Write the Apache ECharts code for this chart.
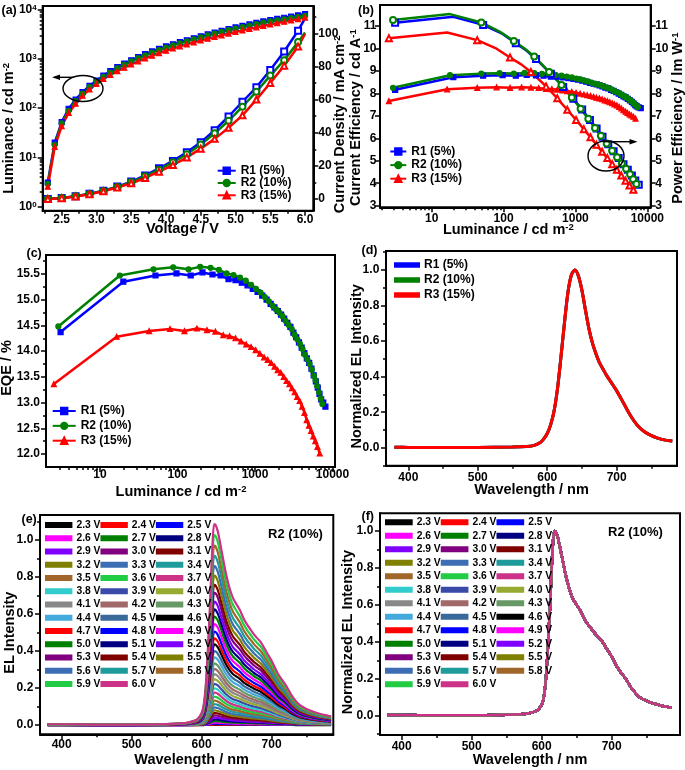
<!DOCTYPE html>
<html><head><meta charset="utf-8">
<script src="https://cdn.jsdelivr.net/npm/echarts@6/dist/echarts.min.js"></script>
<style>html,body{margin:0;padding:0;background:#fff}#c{width:685px;height:770px}</style>
</head><body><div id="c"></div>
<script>
// ---------------- data ----------------
const V = [2.3,2.4,2.5,2.6,2.7,2.8,2.9,3.0,3.1,3.2,3.3,3.4,3.5,3.6,3.7,3.8,3.9,4.0,4.1,4.2,4.3,4.4,4.5,4.6,4.7,4.8,4.9,5.0,5.1,5.2,5.3,5.4,5.5,5.6,5.7,5.8,5.9,6.0];
const sampleNames = ['R1 (5%)','R2 (10%)','R3 (15%)'];
// luminance (cd m^-2) at each voltage
const L1 = [3.1,20,52,97,148,210,283,360,455,560,675,800,935,1080,1240,1410,1590,1780,1970,2170,2380,2610,2860,3130,3400,3690,4000,4330,4660,5000,5350,5720,6100,6450,6800,7150,7600,8100];
const L2 = [2.9,18,49,88,139,196,267,342,430,528,640,760,890,1030,1180,1340,1510,1690,1870,2060,2260,2480,2720,2980,3240,3510,3800,4110,4420,4740,5070,5400,5750,6050,6350,6700,7050,7400];
const L3 = [2.54,16.4,43,80,123,178,240,308,390,470,560,660,770,890,1020,1160,1310,1460,1620,1790,1960,2150,2350,2560,2780,3000,3250,3500,3770,4050,4350,4650,4970,5300,5650,6000,6400,6850];
// current density (mA cm^-2)
const vJ = [2.3,2.5,2.7,2.9,3.1,3.3,3.5,3.7,3.9,4.1,4.3,4.5,4.7,4.9,5.1,5.3,5.5,5.7,5.9,6.0];
const J1 = [0,0.6,1.7,3.2,5.0,7.5,10.5,14.2,18.5,23.0,28.2,34.2,41.5,49.8,58.7,67.4,77.9,89.0,101.6,109.0];
const J2 = [0,0.55,1.6,3.0,4.9,7.3,10.2,13.7,17.7,22.2,27.0,32.9,39.7,47.2,55.7,64.8,74.5,83.8,94.7,100.5];
const J3 = [0,0.5,1.5,2.9,4.7,6.9,9.5,12.7,16.5,20.5,25.1,30.4,36.3,43.0,50.5,60.0,70.0,80.5,92.0,99.6];
// current efficiency (cd/A)
const CE1 = [8.16,8.72,8.79,8.81,8.79,8.82,8.80,8.79,8.75,8.74,8.71,8.68,8.64,8.61,8.57,8.52,8.47,8.43,8.40,8.36,8.31,8.26,8.22,8.16,8.11,8.05,7.99,7.93,7.87,7.82,7.76,7.69,7.62,7.55,7.48,7.42,7.38,7.34];
const CE2 = [8.25,8.81,8.88,8.90,8.88,8.91,8.90,8.87,8.83,8.82,8.79,8.75,8.71,8.66,8.62,8.57,8.53,8.47,8.43,8.40,8.36,8.31,8.26,8.22,8.16,8.10,8.05,8.00,7.93,7.88,7.83,7.77,7.70,7.65,7.59,7.52,7.45,7.39];
const CE3 = [7.66,8.18,8.25,8.27,8.25,8.27,8.26,8.24,8.20,8.19,8.17,8.13,8.10,8.07,8.03,7.99,7.95,7.92,7.89,7.85,7.81,7.78,7.74,7.69,7.66,7.61,7.56,7.51,7.47,7.40,7.33,7.25,7.19,7.13,7.07,7.02,6.96,6.88];
// power efficiency (lm/W)
const PE1 = [11.15,11.41,11.05,10.65,10.23,9.90,9.53,9.20,8.87,8.58,8.29,8.02,7.76,7.51,7.28,7.04,6.82,6.62,6.44,6.25,6.07,5.90,5.74,5.57,5.42,5.27,5.12,4.98,4.85,4.72,4.60,4.47,4.35,4.24,4.12,4.02,3.93,3.84];
const PE2 = [11.27,11.53,11.16,10.75,10.33,10.00,9.64,9.29,8.95,8.66,8.37,8.08,7.82,7.56,7.32,7.08,6.87,6.65,6.46,6.28,6.11,5.93,5.77,5.61,5.45,5.30,5.16,5.03,4.88,4.76,4.64,4.52,4.40,4.29,4.18,4.07,3.97,3.87];
const PE3 = [10.46,10.71,10.37,9.99,9.60,9.28,8.95,8.63,8.31,8.04,7.78,7.51,7.27,7.04,6.82,6.61,6.40,6.22,6.05,5.87,5.71,5.55,5.40,5.25,5.12,4.98,4.85,4.72,4.60,4.47,4.34,4.22,4.11,4.00,3.90,3.80,3.71,3.60];
// EQE (%)
const EQE1 = [14.37,15.35,15.47,15.51,15.47,15.53,15.49,15.47,15.40,15.38,15.33,15.28,15.21,15.15,15.08,15.00,14.92,14.85,14.78,14.71,14.63,14.55,14.47,14.36,14.27,14.17,14.07,13.96,13.86,13.77,13.66,13.53,13.41,13.29,13.17,13.06,13.00,12.92];
const EQE2 = [14.48,15.47,15.59,15.63,15.59,15.64,15.62,15.58,15.51,15.48,15.43,15.37,15.29,15.21,15.14,15.05,14.97,14.88,14.81,14.75,14.68,14.59,14.51,14.43,14.32,14.23,14.14,14.04,13.93,13.84,13.75,13.64,13.52,13.43,13.32,13.20,13.08,12.97];
const EQE3 = [13.36,14.28,14.39,14.43,14.39,14.44,14.41,14.38,14.31,14.29,14.25,14.19,14.13,14.08,14.02,13.95,13.88,13.83,13.77,13.70,13.63,13.58,13.50,13.42,13.36,13.28,13.20,13.11,13.03,12.92,12.80,12.66,12.55,12.45,12.34,12.25,12.14,12.01];
// normalized EL spectrum, panel (d)
const wlD = [380,400,450,500,550,570,580,590,595,600,605,610,615,620,625,630,635,640,645,650,655,660,665,670,675,680,685,690,695,700,710,720,730,740,750,760,770,780];
const elNormD = [0.003,0.002,0.001,0.002,0.004,0.007,0.012,0.03,0.05,0.08,0.13,0.21,0.34,0.52,0.71,0.88,0.975,1.0,0.965,0.885,0.775,0.67,0.59,0.53,0.48,0.445,0.41,0.38,0.35,0.32,0.25,0.18,0.125,0.09,0.068,0.053,0.043,0.038];
// normalized EL spectrum, panels (e)/(f)
const wlEF = [380,400,450,500,550,570,580,590,595,600,603,606,609,612,614,616,618,620,623,626,630,635,640,645,650,655,660,665,670,675,680,685,690,695,700,710,720,730,740,750,760,770,780,785];
const elNormEF = [0.004,0.004,0.002,0.002,0.005,0.008,0.012,0.022,0.033,0.06,0.1,0.2,0.38,0.6,0.78,0.93,1.0,0.995,0.965,0.915,0.84,0.75,0.68,0.63,0.6,0.57,0.53,0.5,0.475,0.45,0.43,0.41,0.38,0.35,0.32,0.25,0.2,0.14,0.1,0.08,0.066,0.055,0.047,0.043];
// EL peak intensity at each voltage, panel (e)
const elPeak = [0.001,0.003,0.007,0.013,0.021,0.030,0.040,0.052,0.065,0.079,0.095,0.113,0.132,0.153,0.175,0.198,0.222,0.248,0.275,0.303,0.333,0.366,0.400,0.436,0.468,0.505,0.546,0.586,0.625,0.667,0.715,0.757,0.807,0.859,0.914,0.969,1.027,1.086];
// tick values
const aXMajor = [2.5,3.0,3.5,4.0,4.5,5.0,5.5,6.0];
const aXMinor = [2.25,2.75,3.25,3.75,4.25,4.75,5.25,5.75];
const logMajor = [1,10,100,1000,10000];
const logMinor = [2,3,4,5,6,7,8,9,20,30,40,50,60,70,80,90,200,300,400,500,600,700,800,900,2000,3000,4000,5000,6000,7000,8000,9000];
const jMajor = [0,20,40,60,80,100];
const jMinor = [10,30,50,70,90,110];
const effMajor = [3,4,5,6,7,8,9,10,11];
const eqeMajor = [12.0,12.5,13.0,13.5,14.0,14.5,15.0,15.5];
const eqeMinor = [12.25,12.75,13.25,13.75,14.25,14.75,15.25,15.75];
const wlMajor = [400,500,600,700];
const wlMinor = [450,550,650,750];
const elMajor = [0,0.2,0.4,0.6,0.8,1.0];
const elMinor = [-0.1,0.1,0.3,0.5,0.7,0.9,1.1];

// ---------------- styling helpers ----------------
const FONT = '"Liberation Sans", Arial, Helvetica, sans-serif';
function T(size, extra) { return Object.assign({fontFamily: FONT, fontWeight: 'bold', fontSize: size, color: '#000'}, extra || {}); }
const SUP = {sup: T(9.5, {verticalAlign: 'top'})};
const voltLabels = V.map(v => v.toFixed(1) + ' V');
const voltColors = ['#000000','#ff0000','#0000ff','#ff00ff','#008000','#000080','#8000ff','#800080','#800000','#808000','#3d6db5','#1f9b9b','#a0662a','#22cc44','#cc3388','#33cccc','#3a4aa8','#99aa33','#888888','#a06868','#669966','#44aadd','#3a6a9a'];
const f1 = v => (Math.round(v * 10) / 10).toFixed(1);

function grid(left, top, width, height) {
  return {left, top, width, height, show: true, borderColor: '#000', borderWidth: 2,
          backgroundColor: 'transparent', containLabel: false, outerBoundsMode: 'none'};
}
function ax(o) {
  const a = {
    type: o.type || 'value', gridIndex: o.g, position: o.pos, min: o.min, max: o.max,
    axisLine: {show: !o.minor, onZero: false, lineStyle: {color: '#000', width: 2}},
    axisTick: {show: true, inside: false, length: o.minor ? 3 : 5, lineStyle: {color: '#000', width: 1.5}, customValues: o.ticks},
    axisLabel: {show: false},
    splitLine: {show: false}, splitArea: {show: false}, minorTick: {show: false}, minorSplitLine: {show: false},
    axisPointer: {show: false}, silent: true
  };
  if (o.type === 'log') a.logBase = 10;
  if (o.labels) {
    a.axisLabel = Object.assign({show: true, customValues: o.labels, margin: o.margin, hideOverlap: false}, T(12));
    if (o.fmt) a.axisLabel.formatter = o.fmt;
    if (o.rich) a.axisLabel.rich = o.rich;
  }
  if (o.name) {
    a.name = o.name; a.nameLocation = 'middle'; a.nameGap = o.gap; a.nameMoveOverlap = false;
    a.nameTextStyle = T(14.5, {rich: SUP, padding: o.pad || 0});
  }
  return a;
}

const grids = [
  grid(42.7, 6, 270.6, 204.7),   // a
  grid(380, 5, 270.7, 202.3),    // b
  grid(46, 255, 289, 212),       // c
  grid(386, 251, 291, 214.7),    // d
  grid(40, 515, 293.3, 219.3),   // e
  grid(380, 513.3, 300, 221.7)   // f
];
const logFmt = v => String(Math.round(v));
const xAxes = [
  ax({g:0,pos:'bottom',min:2.227,max:6.119,ticks:aXMajor,labels:aXMajor,fmt:f1,margin:3,name:'Voltage / V',gap:11,pad:[0,0,0,9]}),
  ax({g:0,pos:'bottom',min:2.227,max:6.119,ticks:aXMinor,minor:true}),
  ax({g:1,pos:'bottom',type:'log',min:1.91,max:11140,ticks:logMajor,labels:logMajor,fmt:logFmt,margin:5,name:'Luminance / cd m{sup|-2}',gap:15,pad:[0,14,0,0]}),
  ax({g:1,pos:'bottom',type:'log',min:1.91,max:11140,ticks:logMinor,minor:true}),
  ax({g:2,pos:'bottom',type:'log',min:2.01,max:10770,ticks:logMajor,labels:logMajor,fmt:logFmt,margin:2,name:'Luminance / cd m{sup|-2}',gap:17,pad:[0,19,0,0]}),
  ax({g:2,pos:'bottom',type:'log',min:2.01,max:10770,ticks:logMinor,minor:true}),
  ax({g:3,pos:'bottom',min:367.9,max:786.8,ticks:wlMajor,labels:wlMajor,margin:6,name:'Wavelength / nm',gap:17}),
  ax({g:3,pos:'bottom',min:367.9,max:786.8,ticks:wlMinor,minor:true}),
  ax({g:4,pos:'bottom',min:369,max:788.2,ticks:wlMajor,labels:wlMajor,margin:4,name:'Wavelength / nm',gap:18,pad:[0,0,0,10]}),
  ax({g:4,pos:'bottom',min:369,max:788.2,ticks:wlMinor,minor:true}),
  ax({g:5,pos:'bottom',min:369,max:797.6,ticks:wlMajor,labels:wlMajor,margin:5.7,name:'Wavelength / nm',gap:17.5}),
  ax({g:5,pos:'bottom',min:369,max:797.6,ticks:wlMinor,minor:true})
];
const yAxes = [
  ax({g:0,pos:'left',type:'log',min:0.83,max:11780,ticks:logMajor,labels:logMajor,fmt:v => '10{s|' + Math.round(Math.log10(v)) + '}',rich:{s:T(8,{verticalAlign:'top'})},margin:6,name:'Luminance / cd m{sup|-2}',gap:26,pad:[0,40,0,0]}),
  ax({g:0,pos:'left',type:'log',min:0.83,max:11780,ticks:logMinor,minor:true}),
  ax({g:0,pos:'right',min:-7.06,max:116.5,ticks:jMajor,labels:jMajor,margin:5,name:'Current Density / mA cm{sup|-2}',gap:19,pad:[0,32,0,0]}),
  ax({g:0,pos:'right',min:-7.06,max:116.5,ticks:jMinor,minor:true}),
  ax({g:1,pos:'left',min:2.929,max:11.935,ticks:effMajor,labels:effMajor,margin:3.5,name:'Current Efficiency / cd A{sup|-1}',gap:17,pad:[0,23,0,0]}),
  ax({g:1,pos:'right',min:2.929,max:11.935,ticks:effMajor,labels:effMajor,margin:4.5,name:'Power Efficiency / lm W{sup|-1}',gap:20,pad:[0,24,0,0]}),
  ax({g:2,pos:'left',min:11.747,max:15.869,ticks:eqeMajor,labels:eqeMajor,fmt:f1,margin:6,name:'EQE / %',gap:32,pad:[0,14,0,0]}),
  ax({g:2,pos:'left',min:11.747,max:15.869,ticks:eqeMinor,minor:true}),
  ax({g:3,pos:'left',min:-0.101,max:1.107,ticks:elMajor,labels:elMajor,fmt:f1,margin:6.7,name:'Normalized EL Intensity',gap:22,pad:[0,16,0,0]}),
  ax({g:3,pos:'left',min:-0.101,max:1.107,ticks:elMinor,minor:true}),
  ax({g:4,pos:'left',min:-0.05,max:1.135,ticks:elMajor,labels:elMajor,fmt:f1,margin:6.7,name:'EL Intensity',gap:23,pad:[0,16,0,0]}),
  ax({g:4,pos:'left',min:-0.05,max:1.135,ticks:elMinor,minor:true}),
  ax({g:5,pos:'left',min:-0.1045,max:1.096,ticks:elMajor,labels:elMajor,fmt:f1,margin:6.7,name:'Normalized EL Intensity',gap:24.7,pad:[0,16,0,0]}),
  ax({g:5,pos:'left',min:-0.1045,max:1.096,ticks:elMinor,minor:true})
];

// ---------------- series ----------------
const samples = [
  {name: sampleNames[0], color: '#0000ff', sym: 'rect',     esym: 'emptyRect',     L: L1, J: J1, CE: CE1, PE: PE1, EQE: EQE1},
  {name: sampleNames[1], color: '#008000', sym: 'circle',   esym: 'emptyCircle',   L: L2, J: J2, CE: CE2, PE: PE2, EQE: EQE2},
  {name: sampleNames[2], color: '#ff0000', sym: 'triangle', esym: 'emptyTriangle', L: L3, J: J3, CE: CE3, PE: PE3, EQE: EQE3}
];
const series = [];
function line(o) {
  return Object.assign({type: 'line', animation: false, silent: true, clip: true,
    lineStyle: {width: o.w || 2.5, color: o.color}, itemStyle: {color: o.color, borderColor: o.color, borderWidth: 1.2},
    emphasis: {disabled: true}}, o.extra);
}
// (a) luminance & current density
samples.forEach(s => series.push(line({color: s.color, extra: {name: s.name, xAxisIndex: 0, yAxisIndex: 0,
  data: V.map((v, i) => [v, s.L[i]]), symbol: s.sym, symbolSize: 5}})));
samples.forEach(s => series.push(line({color: s.color, extra: {name: s.name + ' J', xAxisIndex: 0, yAxisIndex: 2,
  data: vJ.map((v, i) => [v, s.J[i]]), symbol: s.esym, symbolSize: (val, p) => p.dataIndex === vJ.length - 1 ? 0 : 6}})));
// (b) current efficiency & power efficiency
samples.forEach(s => series.push(line({color: s.color, extra: {name: s.name, xAxisIndex: 2, yAxisIndex: 4,
  data: s.L.map((l, i) => [l, s.CE[i]]), symbol: s.sym, symbolSize: 5}})));
samples.forEach(s => series.push(line({color: s.color, extra: {name: s.name + ' PE', xAxisIndex: 2, yAxisIndex: 5,
  data: s.L.map((l, i) => [l, s.PE[i]]), symbol: s.esym, symbolSize: (val, p) => p.dataIndex % 2 === 0 ? 6 : 0}})));
// (c) EQE
samples.forEach(s => series.push(line({color: s.color, extra: {name: s.name, xAxisIndex: 4, yAxisIndex: 6,
  data: s.L.map((l, i) => [l, s.EQE[i]]), symbol: s.sym, symbolSize: 5}})));
// (d) normalized EL
samples.forEach(s => series.push(line({color: s.color, w: 3, extra: {name: s.name + ' ', xAxisIndex: 6, yAxisIndex: 8,
  data: wlD.map((w, i) => [w, elNormD[i]]), symbol: 'none', smooth: 0.3}})));
// (e) EL vs voltage
V.forEach((v, k) => series.push(line({color: voltColors[k % 23], w: 2.2, extra: {name: voltLabels[k], xAxisIndex: 8, yAxisIndex: 10,
  data: wlEF.map((w, i) => [w, elNormEF[i] * elPeak[k]]), symbol: 'none', smooth: 0.3}})));
// (f) normalized EL vs voltage
V.forEach((v, k) => series.push(line({color: voltColors[k % 23], w: 2.5, extra: {name: voltLabels[k], xAxisIndex: 10, yAxisIndex: 12,
  data: wlEF.map((w, i) => [w, elNormEF[i]]), symbol: 'none', smooth: 0.3}})));

// ---------------- legends ----------------
const legBase = {selectedMode: false, orient: 'vertical', padding: 0, inactiveColor: '#000'};
const legends = [
  Object.assign({}, legBase, {left: 216.7, top: 164.7, itemWidth: 18, itemHeight: 8, itemGap: 0.3, textStyle: T(12, {lineHeight: 12}), data: sampleNames}),
  Object.assign({}, legBase, {left: 389.3, top: 145.5, itemWidth: 16, itemHeight: 8, itemGap: 1.6, textStyle: T(12, {lineHeight: 12}), data: sampleNames}),
  Object.assign({}, legBase, {left: 51.7, top: 405, itemWidth: 23, itemHeight: 8, itemGap: 2.85, textStyle: T(12, {lineHeight: 12}), data: sampleNames}),
  Object.assign({}, legBase, {left: 394, top: 259, itemWidth: 24, itemHeight: 3.5, icon: 'rect', itemGap: 3, textStyle: T(12, {lineHeight: 12}), data: sampleNames.map(n => n + ' ')}),
  Object.assign({}, legBase, {orient: 'horizontal', left: 45, top: 518.4, width: 172, itemWidth: 25.4, itemHeight: 4, icon: 'rect', itemGap: 0, textStyle: T(10.3, {lineHeight: 13.25}), data: voltLabels}),
  Object.assign({}, legBase, {orient: 'horizontal', left: 385, top: 515.5, width: 172, itemWidth: 25.7, itemHeight: 4, icon: 'rect', itemGap: 0, textStyle: T(10.3, {lineHeight: 13.5}), data: voltLabels})
];

// ---------------- annotations ----------------
function label(text, x, y, size) {
  return {type: 'text', x: x, y: y, z: 100, silent: true, style: Object.assign({text: text, fill: '#000', verticalAlign: 'middle', align: 'left'}, {fontFamily: FONT, fontWeight: 'bold', fontSize: size})};
}
const graphics = [
  label('(a)', 1.5, 10.5, 12.5), label('(b)', 358, 10.5, 12.5), label('(c)', 26.5, 254, 12.5),
  label('(d)', 361.5, 251, 12.5), label('(e)', 21.5, 520, 12.5), label('(f)', 361.5, 516.7, 12.5),
  label('R2 (10%)', 268, 534.3, 13), label('R2 (10%)', 608, 532, 13),
  {type: 'ellipse', z: 100, silent: true, shape: {cx: 83, cy: 88.5, rx: 20, ry: 13}, style: {fill: null, stroke: '#000', lineWidth: 1.4}},
  {type: 'line', z: 100, silent: true, shape: {x1: 74, y1: 77.3, x2: 58, y2: 77.3}, style: {stroke: '#000', lineWidth: 1.4}},
  {type: 'polygon', z: 100, silent: true, shape: {points: [[52, 77.3], [60, 74.5], [60, 80.1]]}, style: {fill: '#000'}},
  {type: 'ellipse', z: 100, silent: true, shape: {cx: 606, cy: 156, rx: 18, ry: 15}, style: {fill: null, stroke: '#000', lineWidth: 1.4}},
  {type: 'line', z: 100, silent: true, shape: {x1: 604, y1: 141.7, x2: 631, y2: 141.7}, style: {stroke: '#000', lineWidth: 1.4}},
  {type: 'polygon', z: 100, silent: true, shape: {points: [[637.5, 141.7], [629.5, 138.9], [629.5, 144.5]]}, style: {fill: '#000'}}
];

const chart = echarts.init(document.getElementById('c'), null, {renderer: 'canvas'});
chart.setOption({
  animation: false,
  backgroundColor: '#fff',
  textStyle: {fontFamily: FONT},
  grid: grids, xAxis: xAxes, yAxis: yAxes,
  legend: legends, series: series, graphic: graphics,
  tooltip: {show: false}
});
</script>
</body></html>
